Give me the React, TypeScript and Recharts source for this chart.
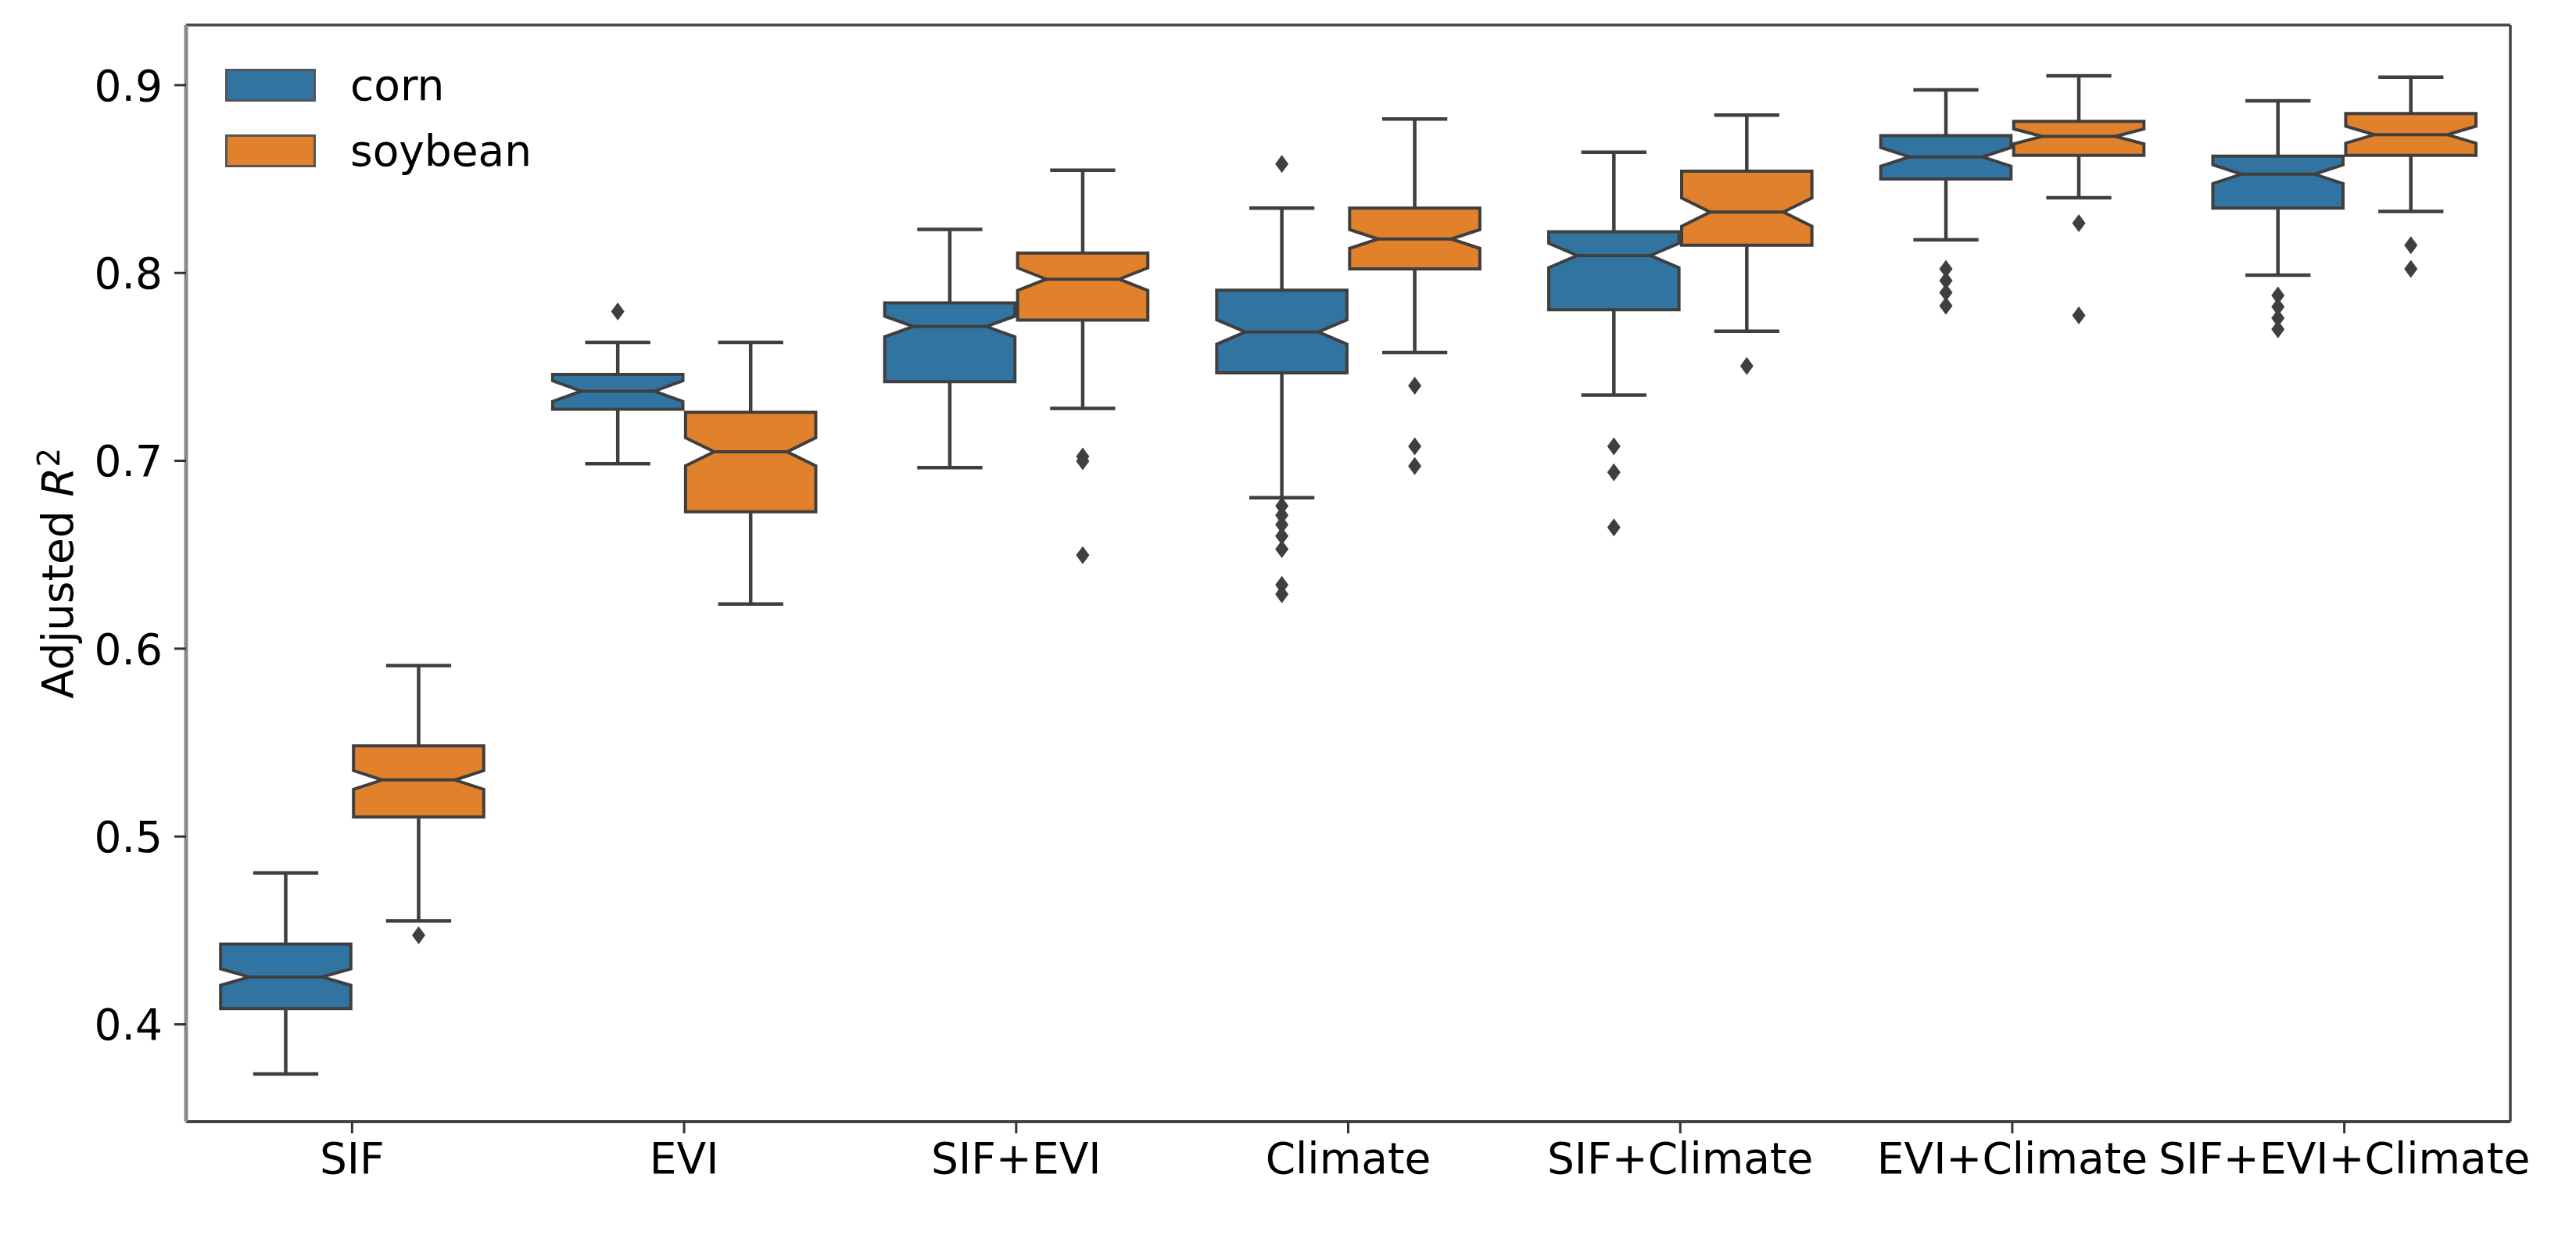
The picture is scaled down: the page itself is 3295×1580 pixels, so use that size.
import React from 'react'
import { ComposedChart, Bar, XAxis, YAxis, Legend, CartesianGrid } from 'recharts'

const CATEGORIES = ['SIF', 'EVI', 'SIF+EVI', 'Climate', 'SIF+Climate', 'EVI+Climate', 'SIF+EVI+Climate']

// corn (blue)
const CORN_WHISKER_LO = [0.3736, 0.6985, 0.6964, 0.6804, 0.735, 0.8177, 0.7988]
const CORN_Q1 = [0.4084, 0.7275, 0.7421, 0.7468, 0.7804, 0.85, 0.8345]
const CORN_MEDIAN = [0.4252, 0.7371, 0.7715, 0.7686, 0.8093, 0.8618, 0.8526]
const CORN_Q3 = [0.4428, 0.746, 0.7841, 0.7908, 0.8219, 0.8731, 0.8622]
const CORN_WHISKER_HI = [0.4806, 0.7631, 0.8232, 0.8345, 0.8643, 0.8975, 0.8916]
const CORN_NOTCH = [0.0044, 0.0055, 0.0055, 0.0065, 0.0065, 0.005, 0.005]
const CORN_OUTLIERS = [
  [],
  [0.7795],
  [],
  [0.858, 0.676, 0.671, 0.666, 0.66, 0.653, 0.634, 0.629],
  [0.7077, 0.6939, 0.6645],
  [0.8022, 0.7959, 0.7896, 0.7825],
  [0.788, 0.782, 0.776, 0.77],
]

// soybean (orange)
const SOY_WHISKER_LO = [0.455, 0.6238, 0.7279, 0.7577, 0.769, 0.84, 0.8328]
const SOY_Q1 = [0.5104, 0.6729, 0.7749, 0.8022, 0.8148, 0.8626, 0.8626]
const SOY_MEDIAN = [0.5301, 0.7048, 0.7967, 0.8181, 0.8324, 0.8727, 0.8736]
const SOY_Q3 = [0.5482, 0.7258, 0.8106, 0.8345, 0.8542, 0.8807, 0.8849]
const SOY_WHISKER_HI = [0.591, 0.7631, 0.8547, 0.882, 0.884, 0.905, 0.9042]
const SOY_NOTCH = [0.005, 0.0075, 0.006, 0.005, 0.0075, 0.004, 0.0045]
const SOY_OUTLIERS = [
  [0.4474],
  [],
  [0.7023, 0.6998, 0.6498],
  [0.74, 0.7077, 0.6972],
  [0.7505],
  [0.8265, 0.7774],
  [0.8148, 0.8022],
]

const Y_TICKS = [0.4, 0.5, 0.6, 0.7, 0.8, 0.9]
const Y_DOMAIN = [0.3482, 0.932]

const CORN_COLOR = '#3274a1'
const SOY_COLOR = '#e1812c'
const EDGE = '#3f3f3f'
const FONT = '"DejaVu Sans", sans-serif'
const FONT_SIZE = 55

const stats = (lo: number[], q1: number[], med: number[], q3: number[], hi: number[], notch: number[], out: number[][], i: number) => ({
  lo: lo[i], q1: q1[i], med: med[i], q3: q3[i], hi: hi[i], notch: notch[i], out: out[i],
})

const data = CATEGORIES.map((category, i) => {
  const corn = stats(CORN_WHISKER_LO, CORN_Q1, CORN_MEDIAN, CORN_Q3, CORN_WHISKER_HI, CORN_NOTCH, CORN_OUTLIERS, i)
  const soy = stats(SOY_WHISKER_LO, SOY_Q1, SOY_MEDIAN, SOY_Q3, SOY_WHISKER_HI, SOY_NOTCH, SOY_OUTLIERS, i)
  return {
    category,
    corn: [Math.min(corn.lo, ...corn.out), Math.max(corn.hi, ...corn.out)],
    soybean: [Math.min(soy.lo, ...soy.out), Math.max(soy.hi, ...soy.out)],
    cornStats: corn,
    soybeanStats: soy,
  }
})

function boxShape(key: 'corn' | 'soybean', fill: string) {
  return (props: any) => {
    const { x, y, width, height, payload } = props
    const s = payload[key + 'Stats']
    const [lo, hi] = payload[key]
    const top = Math.min(y, y + height)
    const h = Math.abs(height)
    const toY = (v: number) => top + ((hi - v) / (hi - lo)) * h
    const w = width * 0.98
    const cx = x + width / 2
    const left = cx - w / 2
    const right = cx + w / 2
    const ind = w * 0.22
    const yq1 = toY(s.q1)
    const yq3 = toY(s.q3)
    const ym = toY(s.med)
    const nlo = toY(s.med - s.notch)
    const nhi = toY(s.med + s.notch)
    const ylo = toY(s.lo)
    const yhi = toY(s.hi)
    const cap = w / 4
    const box = `M${left},${yq1} L${left},${nlo} L${left + ind},${ym} L${left},${nhi} L${left},${yq3} L${right},${yq3} L${right},${nhi} L${right - ind},${ym} L${right},${nlo} L${right},${yq1} Z`
    return (
      <g>
        <line x1={cx} y1={yq3} x2={cx} y2={yhi} stroke={EDGE} strokeWidth={4.5} />
        <line x1={cx - cap} y1={yhi} x2={cx + cap} y2={yhi} stroke={EDGE} strokeWidth={4.5} />
        <line x1={cx} y1={yq1} x2={cx} y2={ylo} stroke={EDGE} strokeWidth={4.5} />
        <line x1={cx - cap} y1={ylo} x2={cx + cap} y2={ylo} stroke={EDGE} strokeWidth={4.5} />
        <path d={box} fill={fill} stroke={EDGE} strokeWidth={4} strokeLinejoin="miter" />
        <line x1={left + ind} y1={ym} x2={right - ind} y2={ym} stroke={EDGE} strokeWidth={4} />
        {s.out.map((v: number, k: number) => {
          const oy = toY(v)
          return <path key={k} d={`M${cx},${oy - 11.5} L${cx + 8.5},${oy} L${cx},${oy + 11.5} L${cx - 8.5},${oy} Z`} fill={EDGE} />
        })}
      </g>
    )
  }
}

const XTick = (props: any) => (
  <text x={props.x} y={props.y} dy="0.71em" textAnchor="middle" fontFamily={FONT} fontSize={FONT_SIZE} fill="#000">
    {props.payload.value}
  </text>
)

const YTick = (props: any) => (
  <text x={props.x} y={props.y} dy="0.36em" textAnchor="end" fontFamily={FONT} fontSize={FONT_SIZE} fill="#000">
    {Number(props.payload.value).toFixed(1)}
  </text>
)

const YLabel = (props: any) => {
  const vb = props.viewBox
  const x = vb.x + 93
  const y = vb.y + vb.height / 2
  return (
    <text x={x} y={y} transform={`rotate(-90, ${x}, ${y})`} textAnchor="middle" fontFamily={FONT} fontSize={FONT_SIZE} fill="#000">
      Adjusted <tspan fontStyle="italic">R</tspan>
      <tspan dy="-0.45em" fontSize={FONT_SIZE * 0.7}>2</tspan>
    </text>
  )
}

const renderLegend = () => (
  <div style={{ fontFamily: FONT, fontSize: FONT_SIZE, color: '#000', lineHeight: 1 }}>
    {[
      ['corn', CORN_COLOR],
      ['soybean', SOY_COLOR],
    ].map(([name, color]) => (
      <div key={name} style={{ display: 'flex', alignItems: 'center', height: 84 }}>
        <div style={{ width: 110, height: 36, background: color, border: '3px solid #555', marginRight: 44 }} />
        <span>{name}</span>
      </div>
    ))}
  </div>
)

export default function App() {
  return (
    <div style={{ position: 'absolute', left: 0, top: 0, background: '#fff' }}>
      <ComposedChart
        width={3295}
        height={1580}
        data={data}
        margin={{ top: 32, right: 84, bottom: 55, left: 0 }}
        barCategoryGap="10%"
        barGap={0}
      >
        <CartesianGrid
          stroke="#444"
          strokeWidth={3.5}
          horizontalCoordinatesGenerator={({ offset }: any) => [offset.top, offset.top + offset.height]}
          verticalCoordinatesGenerator={({ offset }: any) => [offset.left, offset.left + offset.width]}
        />
        <XAxis
          dataKey="category"
          tick={<XTick />}
          tickSize={15}
          tickMargin={12}
          height={90}
          interval={0}
          axisLine={{ stroke: '#404040', strokeWidth: 3.5 }}
          tickLine={{ stroke: '#333', strokeWidth: 3 }}
        />
        <YAxis
          type="number"
          domain={Y_DOMAIN}
          allowDataOverflow
          ticks={Y_TICKS}
          tick={<YTick />}
          tickSize={15}
          tickMargin={15}
          width={238}
          axisLine={{ stroke: '#8a8a8a', strokeWidth: 5 }}
          tickLine={{ stroke: '#333', strokeWidth: 3 }}
          label={(p: any) => <YLabel {...p} />}
        />
        <Legend
          content={renderLegend}
          layout="horizontal"
          verticalAlign="middle"
          align="center"
          wrapperStyle={{ left: 288, top: 67, width: 'auto', height: 'auto' }}
        />
        <Bar dataKey="corn" name="corn" fill={CORN_COLOR} shape={boxShape('corn', CORN_COLOR)} isAnimationActive={false} />
        <Bar dataKey="soybean" name="soybean" fill={SOY_COLOR} shape={boxShape('soybean', SOY_COLOR)} isAnimationActive={false} />
      </ComposedChart>
    </div>
  )
}
